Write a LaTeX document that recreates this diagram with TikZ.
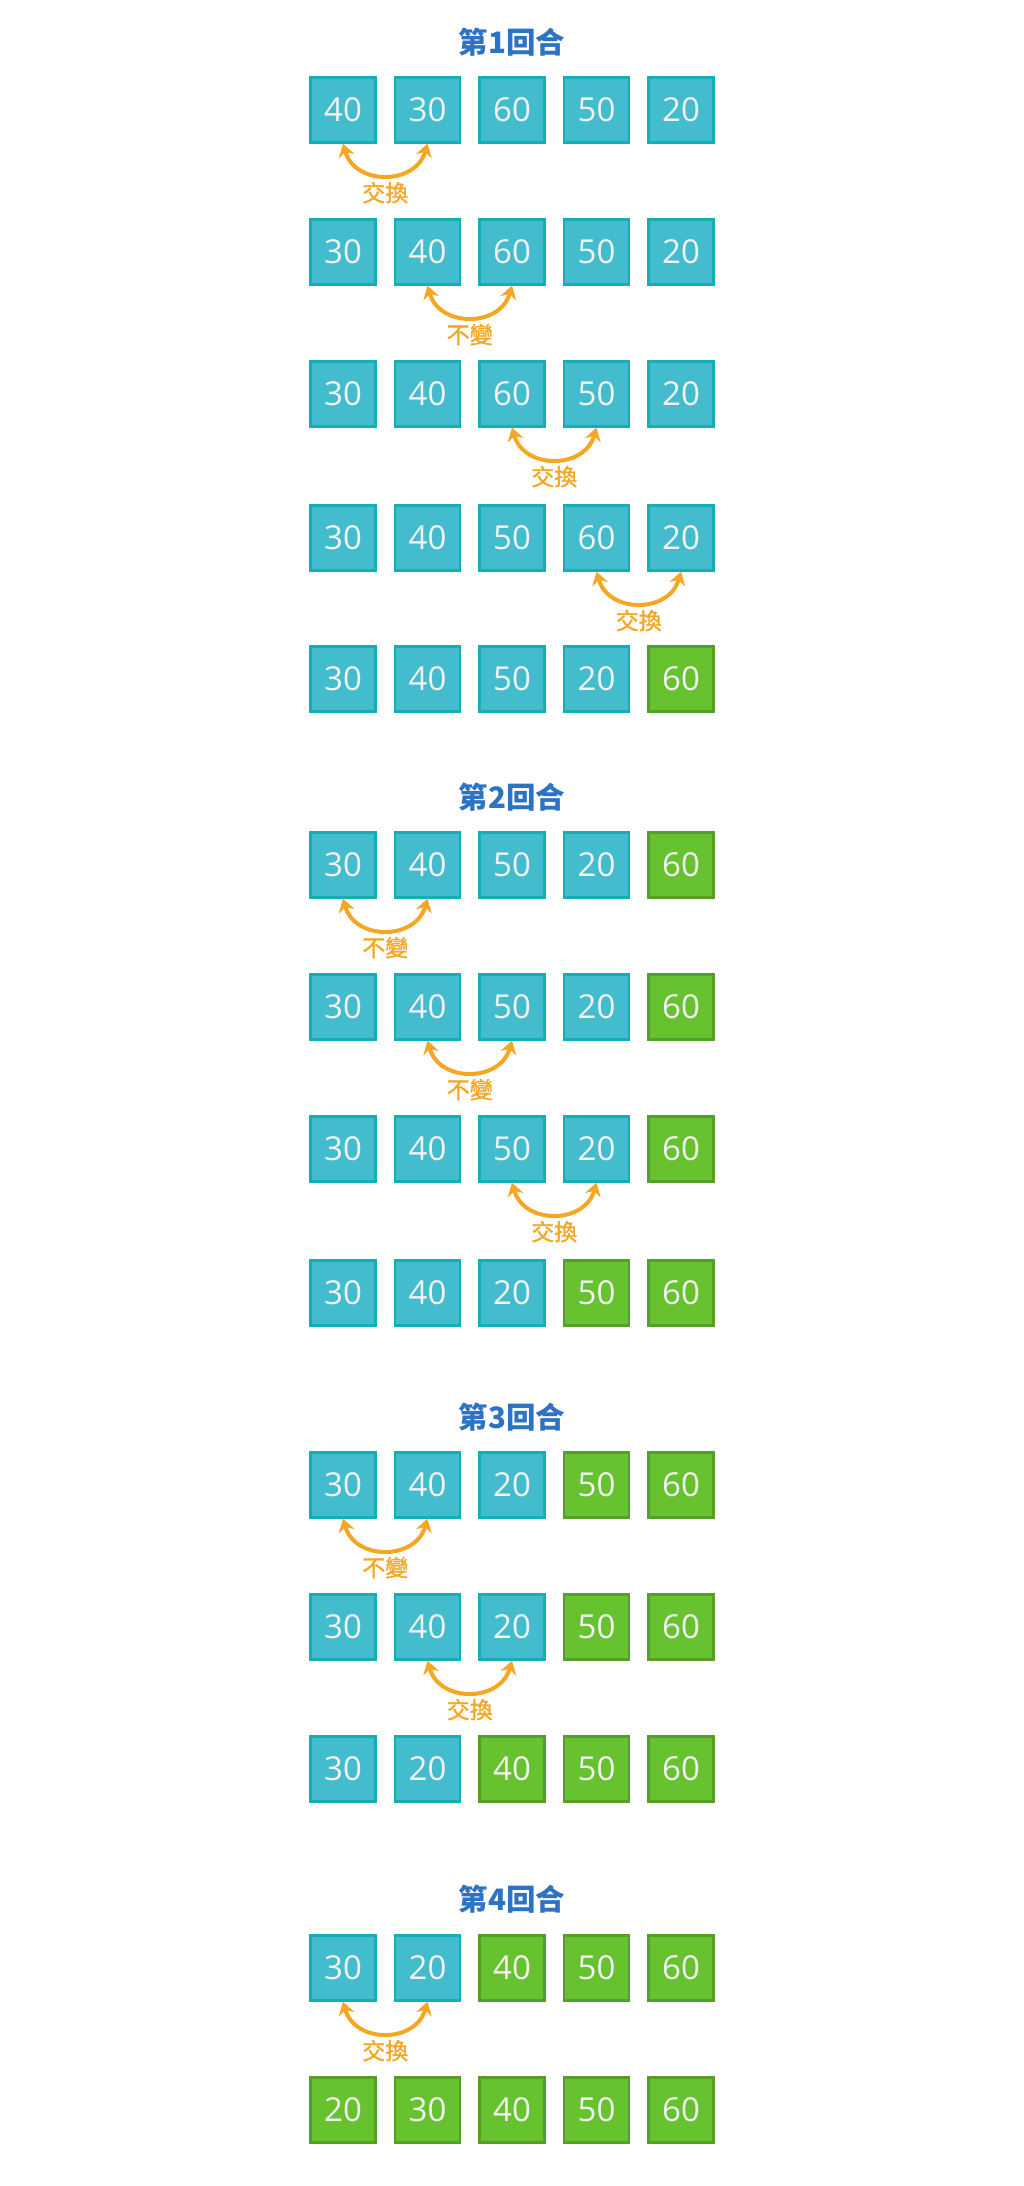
\documentclass[tikz,border=0pt]{standalone}
\usepackage{fontspec}
\setmainfont{Open Sans}
\newfontfamily\cjk{Noto Sans CJK TC}
\newfontfamily\cjkm[FakeBold=1.2]{Noto Sans CJK TC}
\usetikzlibrary{calc,arrows.meta}
\definecolor{cyfill}{HTML}{43BCCD}
\definecolor{cyline}{HTML}{14AFB4}
\definecolor{grfill}{HTML}{66C22E}
\definecolor{grline}{HTML}{559E28}
\definecolor{ttlblue}{HTML}{2E72C4}
\definecolor{swor}{HTML}{F5A623}
\definecolor{digit}{HTML}{F2F2F2}
\tikzset{
  cbox/.style={draw=cyline, fill=cyfill, line width=2.2pt, minimum width=65pt, minimum height=65pt, inner sep=0pt, text=digit, font=\fontsize{33}{33}\selectfont},
  gbox/.style={cbox, draw=grline, fill=grfill},
  sw/.style={draw=swor, line width=4pt, {Stealth[length=13pt,width=16pt]}-{Stealth[length=13pt,width=16pt]}},
  lbl/.style={text=swor, font=\cjkm\fontsize{23}{23}\selectfont, inner sep=0pt},
  ttl/.style={text=ttlblue, font=\cjk\bfseries\fontsize{29.5}{29.5}\selectfont, inner sep=0pt}
}
\newcommand\boxrow[4]{%
  \foreach \v [count=\i] in {#3} {
    \ifnum\i>\numexpr5-#4\relax \def\st{gbox}\else\def\st{cbox}\fi
    \node[\st] (#1-\i) at ({343+84.5*(\i-1)},#2) {\v};
  }%
}
\newcommand\swp[4]{%
  \draw[sw] (#1.south) .. controls ($(#1.south)+(12,42)$) and ($(#2.south)+(-12,42)$) .. (#2.south);
  \node[lbl] (#4) at ($(#1.south)!0.5!(#2.south)+(0,49)$) {#3};
}
\begin{document}
\begin{tikzpicture}[x=1pt,y=-1pt]
\useasboundingbox[fill=white] (0,0) rectangle (1024,2186);
% Round 1
\node[ttl] (t1) at (512,42) {第1回合};
\boxrow{a1}{110}{40,30,60,50,20}{0}
\boxrow{a2}{252}{30,40,60,50,20}{0}
\boxrow{a3}{394}{30,40,60,50,20}{0}
\boxrow{a4}{538}{30,40,50,60,20}{0}
\boxrow{a5}{679}{30,40,50,20,60}{1}
\swp{a1-1}{a1-2}{交換}{la1}
\swp{a2-2}{a2-3}{不變}{la2}
\swp{a3-3}{a3-4}{交換}{la3}
\swp{a4-4}{a4-5}{交換}{la4}
% Round 2
\node[ttl] (t2) at (512,797) {第2回合};
\boxrow{b1}{865}{30,40,50,20,60}{1}
\boxrow{b2}{1007}{30,40,50,20,60}{1}
\boxrow{b3}{1149}{30,40,50,20,60}{1}
\boxrow{b4}{1293}{30,40,20,50,60}{2}
\swp{b1-1}{b1-2}{不變}{lb1}
\swp{b2-2}{b2-3}{不變}{lb2}
\swp{b3-3}{b3-4}{交換}{lb3}
% Round 3
\node[ttl] (t3) at (512,1417) {第3回合};
\boxrow{c1}{1485}{30,40,20,50,60}{2}
\boxrow{c2}{1627}{30,40,20,50,60}{2}
\boxrow{c3}{1769}{30,20,40,50,60}{3}
\swp{c1-1}{c1-2}{不變}{lc1}
\swp{c2-2}{c2-3}{交換}{lc2}
% Round 4
\node[ttl] (t4) at (512,1899) {第4回合};
\boxrow{d1}{1968}{30,20,40,50,60}{3}
\boxrow{d2}{2110}{20,30,40,50,60}{5}
\swp{d1-1}{d1-2}{交換}{ld1}
\end{tikzpicture}
\end{document}
